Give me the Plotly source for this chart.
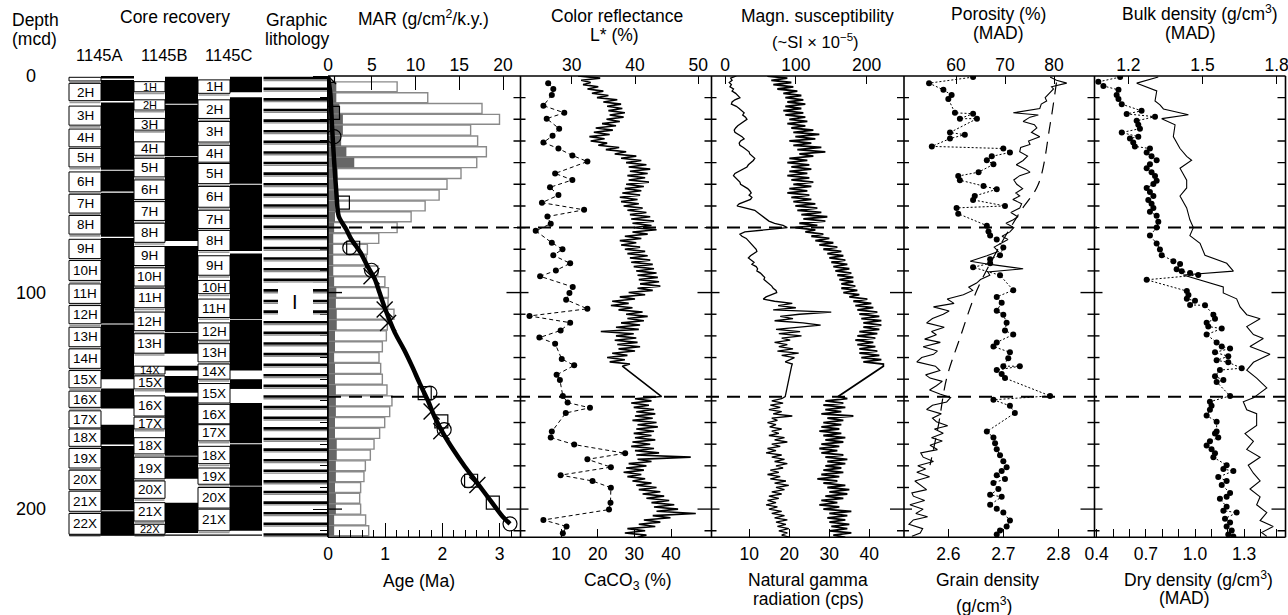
import plotly.graph_objects as go

# ============================ DATA ============================
# --- core recovery (depth, mcd) ---
A_LABELS = ["", "2H", "3H", "4H", "5H", "6H", "7H", "8H", "9H", "10H", "11H", "12H", "13H", "14H",
            "15X", "16X", "17X", "18X", "19X", "20X", "21X", "22X"]
A_TOP = [0.6, 3.4, 13.9, 24.5, 33.4, 44.3, 54.6, 64.4, 75.4, 85.2, 96.0, 106.0, 116.0, 126.0,
         136.0, 145.5, 154.6, 163.0, 172.0, 182.0, 191.7, 202.0]
A_BOT = [2.3, 11.4, 22.7, 32.7, 42.0, 53.5, 63.3, 73.0, 84.3, 94.4, 105.0, 114.4, 125.0, 135.0,
         144.0, 153.0, 162.5, 171.0, 181.0, 191.0, 201.0, 211.6]
A_REC_TOP = [0.0, 1.8, 12.2, 43.8, 53.9, 74.8, 114.7, 144.3, 161.0, 170.8, 201.0]
A_REC_BOT = [1.2, 11.6, 43.3, 53.3, 74.2, 114.3, 140.0, 153.5, 170.2, 200.5, 212.0]

B_LABELS = ["1H", "2H", "3H", "4H", "5H", "6H", "7H", "8H", "9H", "10H", "11H", "12H", "13H",
            "14X", "15X", "16X", "17X", "18X", "19X", "20X", "21X", "22X"]
B_TOP = [2.6, 11.0, 19.6, 30.4, 38.0, 48.0, 58.0, 68.0, 78.7, 88.6, 98.0, 109.0, 119.0,
         134.0, 138.5, 147.7, 157.5, 167.0, 176.0, 187.0, 197.0, 207.0]
B_BOT = [7.3, 15.7, 25.0, 36.6, 46.6, 57.0, 66.7, 76.8, 87.5, 97.0, 107.0, 117.6, 128.0,
         137.6, 144.5, 157.0, 163.0, 174.5, 186.0, 195.0, 205.5, 211.6]
B_REC_TOP = [0.3, 13.3, 37.4, 78.5, 118.6, 133.8, 138.5, 148.0, 175.7, 197.0]
B_REC_BOT = [12.8, 37.0, 76.2, 118.2, 128.2, 136.0, 146.2, 175.3, 186.0, 211.0]

C_LABELS = ["1H", "2H", "3H", "4H", "5H", "6H", "7H", "8H", "9H", "10H", "11H", "12H", "13H",
            "14X", "15X", "16X", "17X", "18X", "19X", "20X", "21X"]
C_TOP = [1.8, 11.0, 21.0, 32.0, 40.4, 51.0, 62.0, 71.3, 83.0, 94.4, 103.0, 114.0, 123.6,
         133.0, 142.0, 151.6, 161.0, 171.0, 181.0, 190.0, 200.0]
C_BOT = [8.0, 19.6, 30.5, 39.8, 49.7, 60.6, 70.4, 80.6, 92.0, 100.5, 111.5, 122.0, 132.0,
         140.0, 151.0, 160.6, 168.5, 179.0, 188.5, 199.5, 210.0]
C_REC_TOP = [0.3, 9.8, 50.2, 82.0, 112.7, 140.0, 151.0, 170.0, 189.6]
C_REC_BOT = [7.5, 49.8, 80.8, 112.3, 136.0, 144.5, 169.6, 189.2, 210.0]

HOLES = ["1145A", "1145B", "1145C"]
LITH_UNIT = "I"
LITH_UNIT_DEPTH = 104.5
UNIT_BOUNDARIES = [70.0, 148.1]

# --- MAR (g/cm2/k.y.) ---
MAR_DEPTH = [5, 10, 15, 20, 25, 30, 35, 40, 45, 50, 55, 60, 65, 70, 75, 80, 85, 90, 95, 100,
             105, 110, 115, 120, 125, 130, 135, 140, 145, 150, 155, 160, 165, 170, 175, 180,
             185, 190, 195, 200, 205, 210]
MAR_TOTAL = [7.9, 11.4, 17.6, 19.6, 16.3, 17.1, 18.1, 17.0, 15.2, 13.6, 12.7, 11.1, 9.5, 7.9,
             5.8, 4.5, 4.4, 5.7, 6.5, 6.9, 6.86, 7.54, 6.78, 6.67, 6.21, 5.83, 6.02, 6.21,
             6.74, 7.31, 7.05, 6.48, 5.90, 5.26, 4.84, 4.27, 4.11, 3.73, 3.62, 3.73, 4.30, 4.65]
MAR_DARK = [0.95, 0.95, 1.3, 1.7, 1.7, 1.5, 2.1, 3.0, 1.1, 0.95, 0.85, 0.8, 0.8, 0.7, 0.6, 0.6,
            0.6, 0.6, 0.7, 0.95, 0.9, 1.0, 1.0, 0.8, 0.8, 0.7, 0.8, 0.8, 0.9, 0.9, 0.9, 0.8,
            0.8, 1.0, 1.0, 0.9, 0.9, 0.8, 0.9, 0.9, 0.7, 0.7]

# --- age model ---
AGE_LINE_DEPTH = [0, 8, 23.1, 38.5, 53.9, 64.7, 70.9, 75.5, 81.6, 87.8, 93.9, 100, 107.6, 118.6,
                  126.4, 134.1, 141.8, 149.5, 157.2, 164.9, 172.6, 180.3, 188, 195.7, 203.4, 206.8]
AGE_LINE_AGE = [0, 0.04, 0.07, 0.105, 0.146, 0.187, 0.32, 0.41, 0.57, 0.69, 0.82, 0.90, 1.0, 1.17,
                1.33, 1.47, 1.60, 1.74, 1.86, 2.01, 2.19, 2.39, 2.61, 2.83, 3.05, 3.18]
SQ_DEPTH = [0, 17, 58.5, 79.3, 146.4, 159.5, 186.9, 197]
SQ_AGE = [0, 0.087, 0.26, 0.44, 1.69, 1.98, 2.50, 2.88]
CIRC_DEPTH = [28, 79.3, 89.7, 146.4, 163.3, 186.9, 206.8]
CIRC_AGE = [0.105, 0.38, 0.76, 1.78, 2.03, 2.45, 3.18]
X_DEPTH = [0, 92.5, 107.8, 114, 154.9, 164, 188.8]
X_AGE = [0, 0.76, 0.99, 1.05, 1.81, 1.98, 2.61]

# --- high-resolution logs (shared depth grid, mcd) ---
LOG_DEPTH = [0, 1, 2, 3, 4, 5, 6, 7, 8, 9, 10, 11, 12, 13, 14, 15, 16, 17, 18, 19,
             20, 21, 22, 23, 24, 25, 26, 27, 28, 29, 30, 31, 32, 33, 34, 35, 36, 37, 38, 39,
             40, 41, 42, 43, 44, 45, 46, 47, 48, 49, 50, 51, 52, 53, 54, 55, 56, 57, 58, 59,
             60, 61, 62, 63, 64, 65, 66, 67, 68, 69, 70, 71, 72, 73, 74, 75, 76, 77, 78, 79,
             80, 81, 82, 83, 84, 85, 86, 87, 88, 89, 90, 91, 92, 93, 94, 95, 96, 97, 98, 99,
             100, 101, 102, 103, 104, 105, 106, 107, 108, 109, 110, 111, 112, 113, 114, 115,
             116, 117, 118, 119, 120, 121, 122, 123, 124, 125, 126, 127, 128, 129, 130, 131,
             132, 133, 134,
             148, 149, 150, 151, 152, 153, 154, 155, 156, 157, 158, 159, 160, 161, 162, 163,
             164, 165, 166, 167, 168, 169, 170, 171, 172, 173, 174, 175, 176, 177, 178, 179,
             180, 181, 182, 183, 184, 185, 186, 187, 188, 189, 190, 191, 192, 193, 194, 195,
             196, 197, 198, 199, 200, 201, 202, 203, 204, 205, 206, 207, 208, 209, 210, 211,
             212, 213]
LSTAR = [31.0, 34.5, 31.5, 33.0, 31.8, 34.2, 32.5, 35.0, 33.2, 35.8,
         34.0, 37.2, 35.0, 37.8, 35.6, 38.0, 35.8, 38.4, 36.0, 38.2,
         35.5, 37.6, 34.8, 37.0, 33.8, 36.5, 33.5, 36.0, 32.8, 35.2,
         33.0, 35.6, 34.2, 37.5, 35.4, 38.6, 36.8, 40.2, 37.8, 41.0,
         38.6, 41.8, 39.0, 42.4, 39.2, 42.0, 38.8, 41.6, 39.0, 42.2,
         38.6, 41.4, 38.4, 41.0, 38.0, 40.8, 37.6, 40.4, 37.8, 40.6,
         38.2, 41.2, 38.8, 41.8, 39.2, 42.4, 39.4, 43.0, 39.6, 42.6,
         39.8, 43.4, 39.6, 42.0, 38.4, 41.0, 37.6, 40.2, 37.8, 40.8,
         38.4, 41.6, 38.8, 42.0, 39.2, 42.4, 39.4, 42.8, 39.8, 43.0,
         40.2, 43.4, 40.4, 43.6, 40.6, 43.8, 40.8, 44.0, 40.4, 42.8,
         39.0, 41.6, 37.6, 40.0, 36.4, 39.0, 36.2, 39.6, 37.4, 41.2,
         38.6, 42.0, 38.8, 41.4, 37.8, 40.8, 37.0, 40.6, 34.6, 39.8,
         37.0, 40.2, 36.8, 40.4, 37.2, 40.8, 37.4, 40.0, 36.4, 38.8,
         35.6, 38.4, 36.0, 39.2, 38.0,
         44.2, 40.0, 42.6, 39.4, 42.2, 39.8, 43.0, 40.2, 43.2, 40.0,
         42.8, 39.6, 43.4, 40.4, 43.6, 40.2, 43.0, 39.8, 42.6, 40.0,
         43.2, 39.6, 42.4, 39.4, 43.0, 40.0, 43.8, 40.2, 48.8, 40.4,
         42.6, 39.0, 41.8, 38.6, 41.4, 38.2, 41.0, 38.8, 41.6, 39.6,
         42.6, 40.2, 43.4, 40.6, 44.0, 41.2, 44.6, 41.8, 45.4, 42.6,
         46.2, 43.0, 46.8, 43.4, 49.6, 42.8, 45.6, 41.4, 44.0, 40.6,
         43.2, 38.8, 41.6, 38.4, 41.8, 40.4]
MAGSUS = [16, 8, 10, 6, 9, 7, 12, 10, 15, 18,
          21, 14, 10, 9, 16, 20, 24, 27, 25, 29,
          31, 26, 22, 18, 15, 13, 14, 20, 24, 27,
          22, 20, 21, 26, 30, 34, 35, 38, 42, 40,
          36, 33, 31, 25, 18, 14, 12, 15, 19, 21,
          22, 27, 32, 35, 37, 34, 38, 36, 28, 20,
          17, 30, 42, 46, 50, 54, 58, 62, 70, 82,
          88, 60, 28, 21, 24, 30, 33, 35, 38, 42,
          44, 45, 40, 36, 33, 37, 41, 38, 44, 46,
          45, 50, 53, 56, 55, 59, 62, 66, 68, 72,
          73, 64, 58, 54, 70, 95, 75, 100, 68, 150,
          105, 78, 96, 70, 110, 135, 98, 72, 106, 76,
          108, 80, 92, 70, 88, 76, 96, 74, 104, 80,
          98, 92, 85, 95, 94,
          85, 80, 66, 82, 64, 78, 62, 80, 68, 95,
          66, 74, 60, 72, 63, 80, 66, 76, 62, 84,
          70, 88, 66, 78, 60, 72, 58, 80, 66, 84,
          70, 88, 72, 82, 64, 76, 60, 78, 64, 86,
          70, 90, 72, 84, 66, 80, 62, 76, 60, 72,
          58, 74, 62, 80, 66, 84, 70, 88, 72, 86,
          74, 90, 76, 88, 80, 92]
NGR = [14.5, 19.5, 15.5, 20.5, 16.0, 21.0, 17.0, 22.0, 18.5, 23.0,
       19.0, 23.5, 19.5, 24.0, 19.0, 23.0, 18.5, 23.5, 19.0, 24.0,
       20.0, 24.5, 19.5, 24.0, 20.5, 26.0, 21.0, 27.5, 21.5, 26.5,
       20.0, 25.5, 21.0, 28.0, 22.0, 29.0, 22.5, 26.0, 20.0, 24.5,
       19.5, 25.0, 20.5, 25.5, 20.0, 24.5, 19.5, 25.0, 20.5, 26.0,
       21.0, 25.5, 20.0, 24.5, 19.5, 25.0, 20.5, 25.5, 21.0, 26.5,
       21.5, 27.0, 22.0, 28.0, 23.0, 29.5, 23.5, 29.0, 22.5, 27.0,
       21.5, 26.5, 24.0, 28.5, 25.5, 30.0, 26.5, 31.0, 27.5, 32.0,
       28.5, 33.0, 29.5, 33.5, 30.0, 34.0, 30.5, 34.5, 31.0, 35.0,
       31.5, 35.5, 32.0, 36.0, 32.5, 36.0, 33.0, 36.5, 33.0, 37.0,
       33.5, 37.5, 35.0, 39.5, 36.0, 40.5, 36.5, 41.0, 37.0, 42.0,
       37.5, 42.5, 38.0, 43.0, 38.5, 43.0, 38.5, 42.5, 37.5, 42.0,
       37.0, 41.5, 36.5, 41.0, 37.0, 41.5, 37.5, 42.0, 37.5, 42.5,
       38.0, 43.0, 38.5, 43.5, 43.5,
       32.2, 34.5, 29.0, 33.5, 28.5, 34.0, 29.0, 33.0, 28.0, 36.0,
       29.5, 33.5, 28.5, 33.0, 28.0, 32.5, 27.5, 33.0, 28.5, 34.0,
       29.0, 33.5, 28.0, 32.5, 27.5, 32.0, 28.0, 33.5, 29.0, 34.5,
       29.5, 34.0, 29.0, 33.0, 28.5, 33.5, 28.0, 32.5, 27.0, 32.0,
       28.5, 34.0, 29.5, 35.0, 30.0, 34.5, 29.0, 33.5, 28.0, 32.0,
       27.5, 32.5, 28.5, 35.5, 30.0, 34.5, 29.5, 34.0, 30.0, 35.0,
       30.5, 34.5, 30.0, 35.5, 31.0, 34.0]

# --- CaCO3 (%) ---
CACO3_DEPTH = [3.3, 6.0, 8.8, 13.7, 17.0, 19.7, 24.3, 27.6, 30.7, 33.5, 36.7, 39.5, 45.0, 48.0,
               51.4, 55.0, 58.5, 61.8, 64.9, 68.2, 71.5, 77.0, 80.0, 82.8, 86.5, 89.8, 92.5,
               97.4, 100.2, 103.3, 107.5, 110.8, 113.9, 117.5, 120.8, 123.6, 130.7, 133.6,
               138.0, 140.4, 147.7, 150.8, 153.2, 155.6, 164.2, 166.9, 170.2, 174.2, 177.0,
               180.6, 184.3, 187.0, 190.1, 197.1, 200.2, 205.0, 208.0, 211.1]
CACO3 = [6.5, 7.9, 7.5, 5.2, 10.9, 6.1, 9.5, 7.7, 5.2, 9.3, 13.1, 17.2, 8.4, 13.1, 7.0, 9.3,
         4.8, 16.3, 6.3, 7.2, 3.1, 7.5, 10.4, 7.9, 12.5, 8.6, 4.3, 13.2, 12.3, 11.4, 17.2, 1.4,
         12.5, 9.9, 4.1, 8.4, 10.2, 13.6, 8.8, 9.7, 10.5, 11.8, 17.9, 11.3, 7.5, 7.2, 13.6,
         27.5, 17.2, 23.6, 9.9, 18.6, 23.6, 23.5, 23.1, 5.2, 11.5, 10.5]

# --- porosity (%) and grain density (g/cm3), MAD ---
POR_DEPTH = [0.5, 2, 3.3, 5, 6, 8, 10, 11.5, 13, 15, 17, 18, 19, 21, 22.5, 24, 26, 28, 30, 31.6,
             33, 35, 37, 39, 41, 43, 44.4, 46, 48, 50, 52, 54, 55.4, 57, 59, 61, 63, 65, 66.4, 68,
             70, 72, 74, 75.5, 77.3, 79, 81, 83, 85.5, 87, 89, 90.5, 92, 94, 95.6, 97.5, 99, 101,
             103, 105, 106.6, 108.5, 110, 112, 114, 116, 118, 119.5, 121.5, 123, 125, 127, 128.5,
             130, 132, 134, 136, 138, 139.5, 141, 143, 145, 146.8, 148.5, 150.5, 152, 154, 156,
             158, 159.6, 161.5, 163, 165, 167, 168.5, 170.5, 172.5, 174, 176, 178, 180, 181.5,
             183, 185, 187, 189, 191, 192.5, 194, 196, 198, 200, 202, 203.5, 205, 207, 209, 211,
             212.5]
POROSITY = [79.2, 80.5, 82.6, 79.5, 79.9, 79.0, 78.2, 78.5, 77.4, 77.1,
            71.7, 76.8, 75.1, 73.7, 76.0, 76.5, 75.4, 77.1, 74.8, 75.1,
            73.2, 73.0, 74.6, 73.7, 72.3, 74.2, 75.1, 73.0, 71.8, 72.4,
            73.6, 72.2, 73.0, 71.6, 73.4, 73.0, 71.2, 72.6, 71.7, 70.2,
            71.8, 71.0, 69.4, 70.6, 69.0, 67.8, 68.6, 66.3, 62.9, 67.0,
            73.7, 66.5, 66.9, 65.0, 64.2, 62.6, 63.4, 61.5, 58.2, 59.6,
            55.4, 58.6, 57.4, 55.2, 54.0, 57.6, 55.0, 56.0, 53.6, 56.8,
            53.3, 56.2, 55.4, 53.0, 52.0, 55.8, 56.7, 53.8, 54.7, 57.2,
            56.0, 54.6, 56.7, 58.9, 58.1, 55.2, 54.0, 57.0, 55.2, 56.0,
            58.3, 55.6, 57.4, 55.0, 57.2, 54.7, 56.2, 52.8, 53.3, 55.4,
            52.2, 53.8, 52.0, 54.6, 51.6, 52.7, 54.0, 51.0, 51.3, 53.6,
            50.6, 53.3, 51.8, 54.2, 51.3, 50.4, 53.2, 52.7, 51.0]
POR_TREND_DEPTH = [3, 22.5, 50, 62.7, 81, 99.3, 121, 139.5, 161.4, 179.7]
POR_TREND = [80.5, 79.2, 76.8, 73.1, 68.3, 64.2, 60.8, 58.1, 56.4, 54.7]
GD_DEPTH = [0.5, 3.3, 6.4, 8.8, 10.6, 17.0, 17.4, 19.7, 19.7, 26.1, 27.1, 28.9, 32.5, 33.5, 35.3,
            37.1, 38.9, 40.8, 44.4, 46.2, 48.1, 50.8, 52.3, 55.4, 57.2, 60.0, 60.9, 63.6, 69.1,
            71.8, 73.7, 75.5, 79.2, 82.8, 84.6, 86.5, 88.3, 92.0, 98.9, 102.0, 104.7, 108.4,
            110.2, 113.9, 117.5, 119.4, 123.0, 124.9, 127.6, 130.3, 134.0, 134.0, 135.8, 137.6,
            139.5, 147.7, 149.5, 152.3, 155.6, 164.2, 166.9, 169.6, 172.4, 175.1, 177.9, 180.6,
            182.4, 184.3, 186.1, 187.9, 190.7, 193.4, 194.3, 198.0, 199.8, 201.6, 205.3, 208.0,
            209.9, 211.7]
GRAIN_DENSITY = [2.645, 2.565, 2.591, 2.606, 2.600, 2.612, 2.645, 2.621, 2.652, 2.603,
                 2.630, 2.603, 2.570, 2.700, 2.712, 2.679, 2.670, 2.682, 2.655, 2.618,
                 2.621, 2.664, 2.688, 2.648, 2.645, 2.703, 2.615, 2.618, 2.670, 2.673,
                 2.676, 2.688, 2.700, 2.694, 2.676, 2.676, 2.645, 2.694, 2.718, 2.688,
                 2.697, 2.688, 2.700, 2.706, 2.703, 2.718, 2.688, 2.682, 2.712, 2.709,
                 2.700, 2.730, 2.688, 2.697, 2.703, 2.785, 2.682, 2.712, 2.721, 2.670,
                 2.682, 2.685, 2.688, 2.694, 2.700, 2.706, 2.697, 2.688, 2.703, 2.682,
                 2.691, 2.676, 2.697, 2.676, 2.688, 2.700, 2.712, 2.706, 2.694, 2.688]

# --- bulk and dry density (g/cm3), MAD ---
BULK_DEPTH = [0.5, 3.3, 6.9, 11.5, 13.3, 15.2, 17.9, 19.7, 22.5, 28.0,
              33.5, 37.1, 38.9, 42.6, 48.1, 51.7, 55.4, 60.9, 66.4, 70.0,
              73.7, 77.3, 82.8, 84.6, 86.5, 90.1, 91.9, 97.4, 100.2, 102.9,
              106.6, 110.2, 112.1, 115.7, 119.4, 121.2, 124.9, 128.5, 132.2, 135.8,
              139.5, 144.0, 148.6, 150.4, 154.1, 155.9, 161.4, 165.1, 168.7, 172.4,
              176.0, 179.7, 183.4, 187.0, 190.7, 194.3, 198.0, 201.6, 205.3, 208.0,
              210.8, 212.6]
BULK_DENSITY = [1.321, 1.234, 1.315, 1.308, 1.328, 1.342, 1.443, 1.335, 1.389, 1.382,
                1.409, 1.436, 1.456, 1.409, 1.436, 1.436, 1.409, 1.436, 1.449, 1.463,
                1.449, 1.490, 1.510, 1.557, 1.598, 1.625, 1.422, 1.584, 1.584, 1.638,
                1.652, 1.679, 1.733, 1.679, 1.706, 1.746, 1.692, 1.773, 1.706, 1.679,
                1.719, 1.760, 1.706, 1.665, 1.679, 1.719, 1.719, 1.672, 1.706, 1.679,
                1.733, 1.685, 1.706, 1.733, 1.692, 1.733, 1.719, 1.760, 1.733, 1.786,
                1.739, 1.760]
DRY_DEPTH = [0.5, 2.7, 4.6, 6.4, 8.8, 10.6, 13.0, 16.1, 17.5, 18.8,
             20.7, 22.5, 24.3, 26.1, 28.0, 28.9, 30.7, 32.5, 33.5, 35.3,
             37.1, 38.9, 40.8, 42.6, 44.4, 46.2, 48.4, 49.9, 51.7, 53.6,
             55.4, 57.2, 59.0, 60.9, 62.7, 64.5, 67.3, 70.0, 73.7, 77.3,
             80.1, 82.8, 85.5, 86.8, 89.2, 90.1, 91.0, 91.9, 94.1, 99.3,
             101.1, 102.9, 103.8, 105.7, 105.9, 110.2, 112.1, 113.9, 115.7, 116.6,
             119.4, 123.0, 124.9, 125.8, 127.6, 129.4, 131.3, 132.2, 134.9, 135.8,
             138.6, 140.4, 141.3, 147.7, 150.4, 152.3, 154.1, 156.8, 159.6, 164.2,
             165.1, 166.9, 168.7, 170.6, 172.4, 174.2, 176.0, 179.7, 181.5, 182.4,
             185.2, 187.0, 188.8, 192.5, 194.3, 195.2, 198.9, 200.7, 201.6, 204.4,
             206.2, 208.0, 209.9, 211.7, 212.6]
DRY_DENSITY = [0.543, 0.410, 0.441, 0.533, 0.522, 0.533, 0.553, 0.674, 0.583, 0.756,
               0.644, 0.654, 0.664, 0.553, 0.654, 0.603, 0.623, 0.633, 0.725, 0.705,
               0.735, 0.766, 0.725, 0.705, 0.735, 0.756, 0.766, 0.746, 0.705, 0.725,
               0.746, 0.715, 0.735, 0.746, 0.725, 0.766, 0.776, 0.766, 0.725, 0.766,
               0.786, 0.797, 0.868, 0.909, 0.888, 0.919, 0.970, 1.020, 0.705, 0.950,
               0.960, 0.950, 1.000, 0.970, 1.061, 1.112, 1.122, 1.071, 1.081, 1.163,
               1.071, 1.132, 1.163, 1.214, 1.122, 1.203, 1.132, 1.203, 1.285, 1.152,
               1.122, 1.173, 1.132, 1.214, 1.091, 1.101, 1.091, 1.071, 1.132, 1.132,
               1.122, 1.142, 1.091, 1.071, 1.101, 1.122, 1.112, 1.193, 1.173, 1.234,
               1.142, 1.193, 1.163, 1.214, 1.193, 1.152, 1.193, 1.173, 1.254, 1.183,
               1.214, 1.193, 1.224, 1.203, 1.234]

# ============================ LAYOUT GEOMETRY ============================
W, H = 1288, 615
FONT = "Liberation Sans, Arial, Helvetica, sans-serif"
Y_TOP, Y_BOT = 76.0, 537.3
D_MAX = 213.0
FS = 17.5


def px(x):
    return x / W


def py(y):
    return 1 - y / H


PANEL = {
    "mar": (328.0, 520.5),
    "col": (520.5, 711.5),
    "mag": (711.5, 904.0),
    "por": (904.0, 1094.5),
    "blk": (1094.5, 1285.5),
}
# axis calibration: value1, pixel1, value2, pixel2
CAL = {
    "age": (0, 328.0, 3, 499.7),
    "mar": (0, 328.0, 20, 503.0),
    "caco3": (10, 561.0, 40, 671.0),
    "lstar": (30, 571.67, 50, 698.33),
    "ngr": (10, 749.33, 40, 869.33),
    "ms": (0, 725.0, 200, 866.67),
    "gd": (2.6, 948.33, 2.8, 1058.33),
    "por": (60, 956.0, 80, 1054.0),
    "dry": (0.4, 1096.67, 1.3, 1244.17),
    "bulk": (1.2, 1128.33, 1.8, 1276.67),
}


def rng(panel, cal):
    x0, x1 = PANEL[panel]
    v1, p1, v2, p2 = CAL[cal]
    s = (v2 - v1) / (p2 - p1)
    return [v1 + (x0 - p1) * s, v1 + (x1 - p1) * s]


fig = go.Figure()

# ---------------- MAR bars (base axis x2) + age model (overlay x3, drawn on top) ----------------
fig.add_trace(go.Bar(x=MAR_TOTAL, y=MAR_DEPTH, orientation="h", width=4.6, base=0,
                     xaxis="x2", yaxis="y",
                     marker=dict(color="white", line=dict(color="#8a8a8a", width=1.4))))
fig.add_trace(go.Bar(x=MAR_DARK, y=MAR_DEPTH, orientation="h", width=4.6, base=0,
                     xaxis="x2", yaxis="y",
                     marker=dict(color="#666666", line=dict(width=0))))
fig.add_trace(go.Scatter(x=AGE_LINE_AGE, y=AGE_LINE_DEPTH, mode="lines", xaxis="x3", yaxis="y",
                         line=dict(color="black", width=4.5, shape="spline", smoothing=0.7)))
fig.add_trace(go.Scatter(x=SQ_AGE, y=SQ_DEPTH, mode="markers", xaxis="x3", yaxis="y",
                         marker=dict(symbol="square-open", size=13, color="black",
                                     line=dict(width=1.2))))
fig.add_trace(go.Scatter(x=CIRC_AGE, y=CIRC_DEPTH, mode="markers", xaxis="x3", yaxis="y",
                         marker=dict(symbol="circle-open", size=14, color="black",
                                     line=dict(width=1.2))))
fig.add_trace(go.Scatter(x=X_AGE, y=X_DEPTH, mode="markers", xaxis="x3", yaxis="y",
                         marker=dict(symbol="x-thin-open", size=16, color="black",
                                     line=dict(width=1.4))))

# ---------------- color reflectance / CaCO3 ----------------
fig.add_trace(go.Scatter(x=LSTAR, y=LOG_DEPTH, mode="lines", xaxis="x5", yaxis="y",
                         line=dict(color="black", width=1.6)))
fig.add_trace(go.Scatter(x=CACO3, y=CACO3_DEPTH, mode="lines+markers", xaxis="x4", yaxis="y",
                         line=dict(color="black", width=1, dash="4px,3px"),
                         marker=dict(color="black", size=6)))

# ---------------- magnetic susceptibility / NGR ----------------
fig.add_trace(go.Scatter(x=MAGSUS, y=LOG_DEPTH, mode="lines", xaxis="x7", yaxis="y",
                         line=dict(color="black", width=1.3)))
fig.add_trace(go.Scatter(x=NGR, y=LOG_DEPTH, mode="lines", xaxis="x6", yaxis="y",
                         line=dict(color="black", width=1.8)))

# ---------------- porosity / grain density ----------------
fig.add_trace(go.Scatter(x=POR_TREND, y=POR_TREND_DEPTH, mode="lines", xaxis="x9", yaxis="y",
                         line=dict(color="black", width=1.2, dash="12px,8px", shape="spline")))
fig.add_trace(go.Scatter(x=POROSITY, y=POR_DEPTH, mode="lines", xaxis="x9", yaxis="y",
                         line=dict(color="black", width=1.1)))
fig.add_trace(go.Scatter(x=GRAIN_DENSITY, y=GD_DEPTH, mode="lines+markers", xaxis="x8",
                         yaxis="y", line=dict(color="black", width=1, dash="2px,2px"),
                         marker=dict(color="black", size=6)))

# ---------------- bulk / dry density ----------------
fig.add_trace(go.Scatter(x=BULK_DENSITY, y=BULK_DEPTH, mode="lines", xaxis="x11", yaxis="y",
                         line=dict(color="black", width=1.1)))
fig.add_trace(go.Scatter(x=DRY_DENSITY, y=DRY_DEPTH, mode="lines+markers", xaxis="x10",
                         yaxis="y", line=dict(color="black", width=1, dash="2px,2px"),
                         marker=dict(color="black", size=6)))

# ============================ SHAPES ============================
shapes = []


def line(x0, y0, x1, y1, w=1.4, color="black", dash=None, yref="paper"):
    d = dict(type="line", xref="paper", yref=yref, x0=px(x0), x1=px(x1),
             y0=y0 if yref == "y" else py(y0), y1=y1 if yref == "y" else py(y1),
             line=dict(color=color, width=w))
    if dash:
        d["line"]["dash"] = dash
    shapes.append(d)


def rect(x0, x1, d0, d1, fill, lw=0, lc="black"):
    shapes.append(dict(type="rect", xref="paper", yref="y", x0=px(x0), x1=px(x1), y0=d0, y1=d1,
                       fillcolor=fill, line=dict(color=lc, width=lw), layer="above"))


annotations = []


def text(x, y, s, size=FS, xanchor="center", yref="paper"):
    annotations.append(dict(x=px(x), y=(y if yref == "y" else py(y)), xref="paper", yref=yref,
                            text=s, showarrow=False, xanchor=xanchor, yanchor="middle",
                            font=dict(family=FONT, size=size, color="black")))


# --- core recovery columns ---
HOLE_X = [(69, 101, 134), (134, 165, 198), (198, 230, 262)]
HOLE_DATA = [(A_LABELS, A_TOP, A_BOT, A_REC_TOP, A_REC_BOT),
             (B_LABELS, B_TOP, B_BOT, B_REC_TOP, B_REC_BOT),
             (C_LABELS, C_TOP, C_BOT, C_REC_TOP, C_REC_BOT)]
for (xb0, xb1, xb2), (labs, tops, bots, rt, rb), name in zip(HOLE_X, HOLE_DATA, HOLES):
    for t, b in zip(rt, rb):
        rect(xb1, xb2, t, b, "black")
    for lab, t, b in zip(labs, tops, bots):
        rect(xb0, xb1, t, b, "white", lw=1)
        line(xb0 + 0.5, b + 0.8, xb1 - 0.5, b + 0.8, w=1.6, color="#9a9a9a", yref="y")
        if lab:
            size = 13.5 if (b - t) > 5 else 11
            text((xb0 + xb1) / 2, (t + b) / 2, lab, size=size, yref="y")
    text((xb0 + xb2) / 2 - 2, 55, name, size=16.5)
line(69, 212.0, 262, 212.0, w=1.4, yref="y")

# --- graphic lithology (horizontal-line pattern) ---
k = 0
while 1.0 + 4.9 * k < D_MAX - 0.5:
    dd = 1.0 + 4.9 * k
    line(263.5, dd, 327, dd, w=2.6, yref="y")
    line(263.5, dd + 1.05, 327, dd + 1.05, w=1.4, color="#8c8c8c", yref="y")
    k += 1
rect(278, 313, 95.5, 111.0, "white")
text(295, LITH_UNIT_DEPTH, LITH_UNIT, size=20, yref="y")

# --- panel frames ---
BOUNDS = [328.0, 520.5, 711.5, 904.0, 1094.5, 1285.5]
line(328, Y_TOP, 1285.5, Y_TOP, w=1.6)
line(328, Y_BOT, 1285.5, Y_BOT, w=1.6)
for b in BOUNDS:
    line(b, Y_TOP, b, Y_BOT, w=1.6)
for d in range(10, 211, 10):
    major = d in (100, 200)
    for b in BOUNDS[1:-1]:
        if major:
            line(b - 14, d, b + 8, d, w=1.4, yref="y")
        else:
            line(b - 7, d, b + 5, d, w=1.4, yref="y")
    line(1285.5 - (14 if major else 8), d, 1285.5, d, w=1.4, yref="y")
    if major:
        line(328, d, 342, d, w=1.4, yref="y")

# --- unit boundaries ---
for d in UNIT_BOUNDARIES:
    line(328, d, 1285.5, d, w=2, dash="13px,8px", yref="y")

# --- depth labels ---
for d in (0, 100, 200):
    text(31, d, str(d), size=18, yref="y")

# --- titles ---
text(10, 20.5, "Depth", xanchor="left")
text(10, 39, "(mcd)", xanchor="left")
text(175, 17, "Core recovery")
text(297, 20, "Graphic")
text(297, 38.5, "lithology")
text(423, 18, "MAR (g/cm<sup>2</sup>/k.y.)")
text(617, 16, "Color reflectance")
text(614, 35, "L* (%)")
text(817, 16, "Magn. susceptibility")
text(815, 41, "(~SI × 10<sup>−5</sup>)", size=16.5)
text(998, 14, "Porosity (%)")
text(998, 32.5, "(MAD)")
text(1200, 13, "Bulk density (g/cm<sup>3</sup>)")
text(1190, 32.5, "(MAD)")
text(419, 581, "Age (Ma)")
text(628, 581, "CaCO<sub>3</sub> (%)")
text(808, 580, "Natural gamma")
text(808, 599, "radiation (cps)")
text(988, 580, "Grain density")
text(984, 605, "(g/cm<sup>3</sup>)")
text(1198, 579, "Dry density (g/cm<sup>3</sup>)")
text(1184, 598, "(MAD)")

# ============================ AXES ============================
TICKFONT = dict(family=FONT, size=FS, color="black")


def xax(panel, cal, side, tickvals, overlay=None, ticklen=8, fmt=None, minor=None):
    d = dict(range=rng(panel, cal), anchor="y", side=side, tickmode="array", tickvals=tickvals,
             ticks="inside", ticklen=ticklen, tickwidth=1.4, tickcolor="black",
             showgrid=False, zeroline=False, showline=False, tickfont=TICKFONT,
             fixedrange=True, automargin=False, ticklabeloverflow="allow",
             ticklabelstandoff=(1 if side == "top" else 4))
    if overlay:
        d["overlaying"] = overlay
    else:
        x0, x1 = PANEL[panel]
        d["domain"] = [px(x0), px(x1)]
    if fmt:
        d["tickformat"] = fmt
    if minor:
        d["minor"] = minor
    return d


layout = dict(
    template="none",
    width=W, height=H, margin=dict(l=0, r=0, t=0, b=0, pad=0, autoexpand=False),
    paper_bgcolor="white", plot_bgcolor="rgba(0,0,0,0)",
    showlegend=False, barmode="overlay",
    font=dict(family=FONT, color="black"),
    xaxis=dict(domain=[px(69), px(328)], range=[0, 1], visible=False, anchor="y",
               automargin=False),
    yaxis=dict(domain=[py(Y_BOT), py(Y_TOP)], range=[D_MAX, 0], anchor="x",
               showline=True, linewidth=1.4, linecolor="black",
               ticks="outside", ticklen=14, tickwidth=1.4, tickcolor="black",
               tickmode="linear", tick0=0, dtick=100, showticklabels=False,
               minor=dict(ticks="outside", ticklen=7, tickwidth=1.4, tickcolor="black",
                          dtick=10, tick0=0),
               showgrid=False, zeroline=False, fixedrange=True, automargin=False),
    xaxis2=xax("mar", "mar", "top", [0, 5, 10, 15, 20], ticklen=14),
    xaxis3=xax("mar", "age", "bottom", [0, 1, 2, 3], overlay="x2", ticklen=14,
               minor=dict(ticks="inside", ticklen=7, tickwidth=1.4, tickcolor="black",
                          tickmode="array",
                          tickvals=[0.2, 0.4, 0.6, 0.8, 1.2, 1.4, 1.6, 1.8, 2.2, 2.4, 2.6,
                                    2.8, 3.2])),
    xaxis4=xax("col", "caco3", "bottom", [10, 20, 30, 40]),
    xaxis5=xax("col", "lstar", "top", [30, 40, 50], overlay="x4"),
    xaxis6=xax("mag", "ngr", "bottom", [10, 20, 30, 40]),
    xaxis7=xax("mag", "ms", "top", [0, 100, 200], overlay="x6"),
    xaxis8=xax("por", "gd", "bottom", [2.6, 2.7, 2.8], fmt=".1f"),
    xaxis9=xax("por", "por", "top", [60, 70, 80], overlay="x8"),
    xaxis10=xax("blk", "dry", "bottom", [0.4, 0.7, 1.0, 1.3], fmt=".1f",
                minor=dict(ticks="inside", ticklen=8, tickwidth=1.4, tickcolor="black",
                           tickmode="array",
                           tickvals=[0.5, 0.6, 0.8, 0.9, 1.1, 1.2, 1.4, 1.5])),
    xaxis11=xax("blk", "bulk", "top", [1.2, 1.5, 1.8], overlay="x10", fmt=".1f"),
    shapes=shapes,
    annotations=annotations,
)
fig.update_layout(**layout)
fig.write_html("out.html")
